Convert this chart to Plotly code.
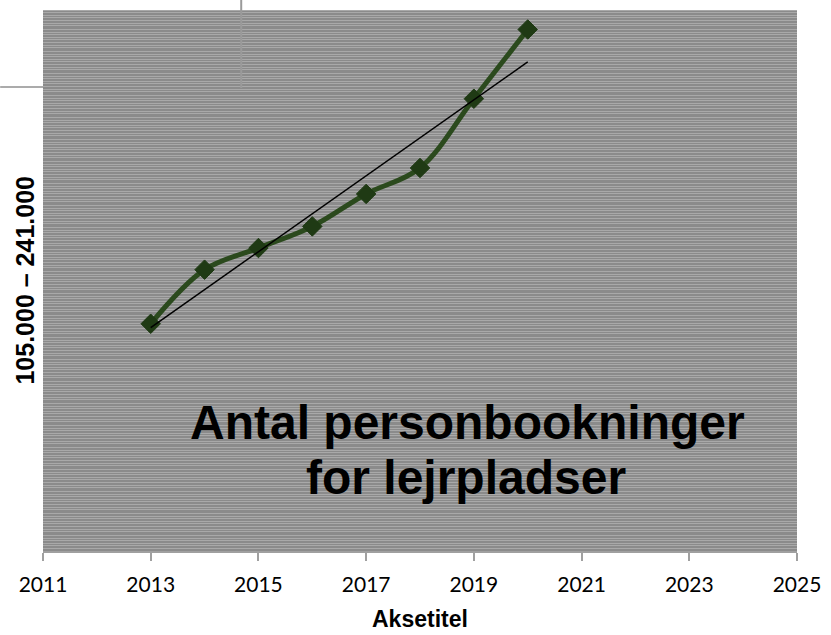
import numpy as np
import plotly.graph_objects as go

# Antal personbookninger for lejrpladser
years = [2013, 2014, 2015, 2016, 2017, 2018, 2019, 2020]
bookings = [105000, 130000, 140000, 150000, 165000, 177000, 209000, 241000]
x_ticks = [2011, 2013, 2015, 2017, 2019, 2021, 2023, 2025]

title_lines = ['Antal personbookninger', 'for lejrpladser']
y_title = '105.000 \u2013 241.000'
x_title = 'Aksetitel'

# plot area in pixels (used only for styling / overlays)
W, H = 831, 635
L, R, T, B = 43, 800, 10, 551
pw, ph = R - L, B - T


def px_x(x):
    return (x - L) / pw


def px_y(y):
    return (B - y) / ph


# linear trendline (like Excel's)
slope, intercept = np.polyfit(years, bookings, 1)
trend_x = [years[0], years[-1]]
trend_y = [slope * v + intercept for v in trend_x]

fig = go.Figure()

fig.add_trace(go.Scatter(
    x=years,
    y=bookings,
    mode='lines+markers',
    line=dict(color='#2b4a1d', width=5, shape='spline', smoothing=1),
    marker=dict(symbol='diamond', size=15, color='#1f3a14',
                line=dict(color='#1f3a14', width=1)),
    showlegend=False,
))

fig.add_trace(go.Scatter(
    x=trend_x,
    y=trend_y,
    mode='lines',
    line=dict(color='black', width=1.5),
    showlegend=False,
))

# striped background texture
shapes = []
pattern = [0, 2, 5, 7, 10, 13, 15, 19]
period = 22
k = 0
while k < ph:
    for off in pattern:
        row = k + off
        if row >= ph:
            break
        yy = 1 - (row + 0.5) / ph
        shapes.append(dict(type='line', xref='paper', yref='paper',
                           x0=0, x1=1, y0=yy, y1=yy, layer='below',
                           line=dict(color='#a9a9a9', width=1)))
    k += period

# stray border lines in the top-left corner
shapes.append(dict(type='line', xref='paper', yref='paper',
                   x0=px_x(0), x1=px_x(L), y0=px_y(87), y1=px_y(87),
                   line=dict(color='#8f8f8f', width=1.5)))
shapes.append(dict(type='line', xref='paper', yref='paper',
                   x0=px_x(242), x1=px_x(242), y0=px_y(0), y1=px_y(88),
                   line=dict(color='#9a9a9a', width=2)))

annotations = [
    dict(text=title_lines[0], xref='paper', yref='paper',
         x=px_x(469), y=px_y(422), xanchor='center', yanchor='middle',
         showarrow=False,
         font=dict(family='Liberation Sans, Arial', size=48, color='black',
                   weight='bold')),
    dict(text=title_lines[1], xref='paper', yref='paper',
         x=px_x(468), y=px_y(477), xanchor='center', yanchor='middle',
         showarrow=False,
         font=dict(family='Liberation Sans, Arial', size=48, color='black',
                   weight='bold')),
    dict(text=y_title, xref='paper', yref='paper',
         x=px_x(24), y=0.5, xanchor='center', yanchor='middle',
         textangle=-90, showarrow=False,
         font=dict(family='Liberation Sans, Arial', size=25, color='black',
                   weight='bold')),
    dict(text=x_title, xref='paper', yref='paper',
         x=0.5, y=px_y(633), xanchor='center', yanchor='bottom',
         showarrow=False, borderpad=0,
         font=dict(family='Liberation Sans, Arial', size=23, color='black',
                   weight='bold')),
]

fig.update_layout(
    width=W,
    height=H,
    margin=dict(l=L, r=W - R, t=T, b=H - B),
    paper_bgcolor='white',
    plot_bgcolor='#8b8b8b',
    shapes=shapes,
    annotations=annotations,
    xaxis=dict(
        range=[2011, 2025],
        tickmode='array',
        tickvals=x_ticks,
        ticktext=[str(v) for v in x_ticks],
        ticks='outside',
        ticklen=8,
        tickwidth=1.5,
        tickcolor='#a0a0a0',
        showline=True,
        linecolor='#a0a0a0',
        linewidth=1.5,
        showgrid=False,
        zeroline=False,
        ticklabelstandoff=6,
        tickfont=dict(family='Lato, Carlito, Calibri', size=21, color='black'),
    ),
    yaxis=dict(
        range=[0, 250000],
        showticklabels=False,
        showgrid=False,
        zeroline=False,
        showline=False,
        ticks='',
    ),
)

# drop the browser's default page margin so the figure sits at 0,0
fig.write_html('out.html',
               config={'displayModeBar': False},
               post_script="document.body.style.margin='0';"
                           "document.body.style.overflow='hidden';")
